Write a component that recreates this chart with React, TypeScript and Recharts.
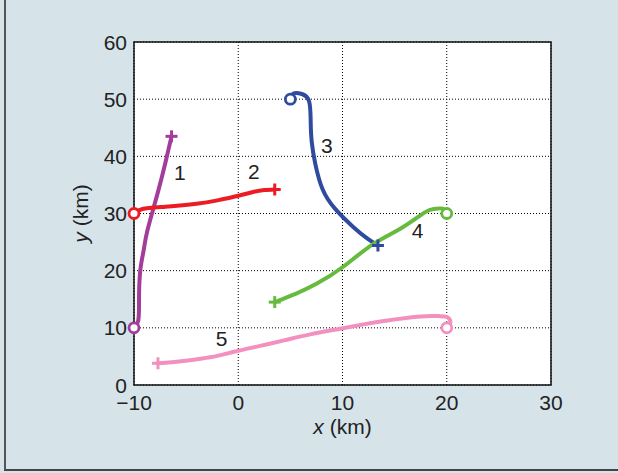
import {
  ComposedChart,
  Line,
  Scatter,
  XAxis,
  YAxis,
  CartesianGrid,
  ReferenceArea,
} from "recharts";

type Pt = { x: number; y: number };

// tracks start at the circle and end at the plus
const track1: Pt[] = [
  { x: -10, y: 10 }, { x: -9.6, y: 11.2 }, { x: -9.52, y: 14 }, { x: -9.5, y: 17.1 },
  { x: -9.36, y: 20.6 }, { x: -9.05, y: 23.8 }, { x: -8.72, y: 27 }, { x: -7.77, y: 33.3 },
  { x: -6.96, y: 39.1 }, { x: -6.4, y: 43.5 },
];
const track2: Pt[] = [
  { x: -10, y: 30 }, { x: -9.2, y: 30.8 }, { x: -7, y: 31.2 }, { x: -4, y: 31.7 },
  { x: -2, y: 32.3 }, { x: 0, y: 33.1 }, { x: 1.5, y: 33.8 }, { x: 2.5, y: 34.1 },
  { x: 3.5, y: 34.2 },
];
const track3: Pt[] = [
  { x: 5, y: 50 }, { x: 5.3, y: 51.0 }, { x: 6.1, y: 50.9 }, { x: 6.8, y: 49.6 },
  { x: 6.95, y: 46 }, { x: 7.05, y: 42.5 }, { x: 7.4, y: 38.6 }, { x: 8.1, y: 34.2 },
  { x: 9.3, y: 30.8 }, { x: 11, y: 27.7 }, { x: 12.4, y: 25.6 }, { x: 13.4, y: 24.4 },
];
const track4: Pt[] = [
  { x: 20, y: 30 }, { x: 19.6, y: 30.85 }, { x: 18.8, y: 30.8 }, { x: 17.9, y: 30.2 },
  { x: 15.7, y: 27.5 }, { x: 12.9, y: 24.6 }, { x: 10, y: 20.6 }, { x: 7.5, y: 17.7 },
  { x: 5.55, y: 16 }, { x: 3.5, y: 14.5 },
];
const track5: Pt[] = [
  { x: 20, y: 10 }, { x: 20.35, y: 11.0 }, { x: 20.0, y: 11.9 }, { x: 19.2, y: 12.05 },
  { x: 17.5, y: 12.0 }, { x: 14.3, y: 11.3 }, { x: 12, y: 10.6 }, { x: 9.8, y: 9.85 },
  { x: 7, y: 8.9 }, { x: 4.5, y: 7.85 }, { x: 2, y: 6.8 }, { x: -0.3, y: 5.85 },
  { x: -2, y: 5.1 }, { x: -3.6, y: 4.6 }, { x: -5.5, y: 4.15 }, { x: -7.7, y: 3.8 },
];

const trackLabels = [
  { x: -5.6, y: 37.2, text: "1" },
  { x: 1.5, y: 37.4, text: "2" },
  { x: 8.5, y: 41.9, text: "3" },
  { x: 17.2, y: 27.1, text: "4" },
  { x: -1.6, y: 8.1, text: "5" },
];

const tracks = [
  { id: "t1", data: track1, color: "#a23d9b" },
  { id: "t2", data: track2, color: "#ec1c24" },
  { id: "t3", data: track3, color: "#2f4b9e" },
  { id: "t4", data: track4, color: "#66bb3f" },
  { id: "t5", data: track5, color: "#f291bf" },
];

const xTicks = [-10, 0, 10, 20, 30];
const yTicks = [0, 10, 20, 30, 40, 50, 60];

const FONT = "'Liberation Sans', Arial, Helvetica, sans-serif";
const INK = "#222";

const makeDot = (color: string, n: number) => (p: any) => {
  const { cx, cy, index } = p;
  if (index === 0) {
    return <circle key={`d${index}`} cx={cx} cy={cy} r={5} fill="#fff" stroke={color} strokeWidth={2.8} />;
  }
  if (index === n - 1) {
    return (
      <g key={`d${index}`} stroke={color} strokeWidth={3} strokeLinecap="butt">
        <line x1={cx - 6} y1={cy} x2={cx + 6} y2={cy} />
        <line x1={cx} y1={cy - 6} x2={cx} y2={cy + 6} />
      </g>
    );
  }
  return <g key={`d${index}`} />;
};

// tick renderers so the font size is applied for sure
const XTick = (p: any) => (
  <text x={p.x} y={p.y} dy="0.72em" textAnchor="middle" fontSize={21} fill={INK} fontFamily={FONT}>
    {p.payload.value < 0 ? `\u2212${Math.abs(p.payload.value)}` : p.payload.value}
  </text>
);

const YTick = (p: any) => (
  <text x={p.x} y={p.y} dy="0.36em" textAnchor="end" fontSize={21} fill={INK} fontFamily={FONT}>
    {p.payload.value}
  </text>
);

const XTitle = (props: any) => {
  const { viewBox } = props;
  return (
    <text x={viewBox.x + viewBox.width / 2} y={viewBox.y + 49} textAnchor="middle" fontSize={21} fill={INK} fontFamily={FONT}>
      <tspan fontStyle="italic">x</tspan> (km)
    </text>
  );
};

const YTitle = (props: any) => {
  const { viewBox } = props;
  const x = viewBox.x + 14;
  const y = viewBox.y + viewBox.height / 2;
  return (
    <text x={x} y={y} transform={`rotate(-90 ${x} ${y})`} textAnchor="middle" fontSize={21} fill={INK} fontFamily={FONT}>
      <tspan fontStyle="italic">y</tspan> (km)
    </text>
  );
};

const LabelShape = (p: any) => (
  <text x={p.cx} y={p.cy} textAnchor="middle" dominantBaseline="central" fontSize={21} fill={INK} fontFamily={FONT}>
    {p.payload.text}
  </text>
);

export default function App() {
  return (
    <div style={{ position: "absolute", left: 0, top: 0, width: 618, height: 473, background: "#d6e4ea", fontFamily: FONT }}>
      <div style={{ position: "absolute", left: 4, top: 0, width: 614, height: 469, borderLeft: "2px solid #555", borderBottom: "2px solid #444" }} />
      <div style={{ position: "absolute", left: 0, top: 0 }}>
        <ComposedChart width={618} height={473} margin={{ top: 42, right: 67, bottom: 28, left: 74 }}>
          <CartesianGrid fill="#fff" stroke="#000" strokeDasharray="1 2" />
          <XAxis
            type="number"
            dataKey="x"
            domain={[-10, 30]}
            ticks={xTicks}
            height={60}
            tickLine={false}
            axisLine={false}
            tickSize={0}
            tickMargin={10}
            tick={<XTick />}
            label={<XTitle />}
          />
          <YAxis
            type="number"
            dataKey="y"
            domain={[0, 60]}
            ticks={yTicks}
            width={60}
            tickLine={false}
            axisLine={false}
            tickSize={0}
            tickMargin={7}
            tick={<YTick />}
            label={<YTitle />}
          />
          <ReferenceArea x1={-10} x2={30} y1={0} y2={60} fill="none" stroke="#111" strokeWidth={1.5} />
          {tracks.map((t) => (
            <Line
              key={t.id}
              data={t.data}
              dataKey="y"
              type="natural"
              stroke={t.color}
              strokeWidth={4}
              strokeLinecap="round"
              strokeLinejoin="round"
              dot={makeDot(t.color, t.data.length)}
              activeDot={false}
              isAnimationActive={false}
            />
          ))}
          <Scatter data={trackLabels} dataKey="y" shape={<LabelShape />} isAnimationActive={false} />
        </ComposedChart>
      </div>
    </div>
  );
}
